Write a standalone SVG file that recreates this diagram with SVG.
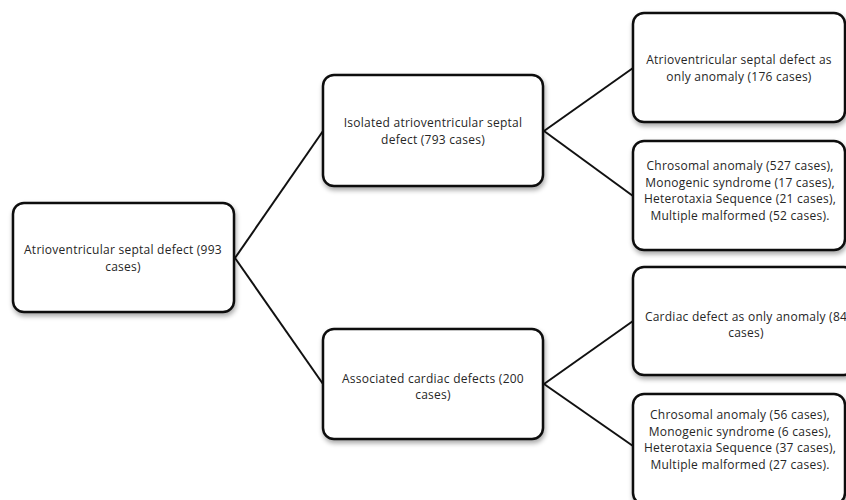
<svg xmlns="http://www.w3.org/2000/svg" width="846" height="500" viewBox="0 0 846 500">
<defs>
<filter id="sh" x="-10%" y="-10%" width="125%" height="130%">
<feGaussianBlur in="SourceAlpha" stdDeviation="2.5"/>
<feOffset dx="1" dy="3" result="b"/>
<feComponentTransfer><feFuncA type="linear" slope="0.35"/></feComponentTransfer>
<feMerge><feMergeNode/><feMergeNode in="SourceGraphic"/></feMerge>
</filter>
</defs>
<style>
.box{fill:#ffffff;stroke:#111111;stroke-width:2.5;filter:url(#sh)}
.t{font-family:"Open Sans",Lato,sans-serif;font-size:12px;letter-spacing:0.25px;fill:#262626;text-anchor:middle}
.c{stroke:#111111;stroke-width:2;fill:none}
</style>
<rect width="846" height="500" fill="#ffffff"/>
<g id="connectors">
<line class="c" x1="235" y1="258" x2="323" y2="131"/>
<line class="c" x1="235" y1="258" x2="323" y2="384"/>
<line class="c" x1="544" y1="131" x2="633" y2="68"/>
<line class="c" x1="544" y1="131" x2="633" y2="196"/>
<line class="c" x1="544" y1="384" x2="633" y2="321"/>
<line class="c" x1="544" y1="384" x2="633" y2="446"/>
</g>
<g id="root">
<rect class="box" x="13" y="203" width="221" height="109" rx="11"/>
<text class="t" x="123" y="254">Atrioventricular septal defect (993</text>
<text class="t" x="123" y="270.5">cases)</text>
</g>
<g id="isolated">
<rect class="box" x="323" y="75" width="220" height="111" rx="11"/>
<text class="t" x="433" y="127">Isolated atrioventricular septal</text>
<text class="t" x="433" y="143.5">defect (793 cases)</text>
</g>
<g id="associated">
<rect class="box" x="323" y="329" width="220" height="110" rx="11"/>
<text class="t" x="433" y="382.5">Associated cardiac defects (200</text>
<text class="t" x="433" y="399">cases)</text>
</g>
<g id="avsd-only">
<rect class="box" x="633" y="13" width="212" height="109" rx="11"/>
<text class="t" x="739" y="64">Atrioventricular septal defect as</text>
<text class="t" x="739" y="80.5">only anomaly (176 cases)</text>
</g>
<g id="isolated-other">
<rect class="box" x="633" y="141" width="212" height="109" rx="11"/>
<text class="t" x="740" y="170">Chrosomal anomaly (527 cases),</text>
<text class="t" x="740" y="186.5">Monogenic syndrome (17 cases),</text>
<text class="t" x="740" y="203">Heterotaxia Sequence (21 cases),</text>
<text class="t" x="740" y="219.5">Multiple malformed (52 cases).</text>
</g>
<g id="cardiac-only">
<rect class="box" x="633" y="267" width="222" height="108" rx="11"/>
<text class="t" x="746" y="320.5">Cardiac defect as only anomaly (84</text>
<text class="t" x="746" y="337">cases)</text>
</g>
<g id="associated-other">
<rect class="box" x="633" y="394" width="212" height="110" rx="11"/>
<text class="t" x="740" y="419">Chrosomal anomaly (56 cases),</text>
<text class="t" x="740" y="435.5">Monogenic syndrome (6 cases),</text>
<text class="t" x="740" y="452">Heterotaxia Sequence (37 cases),</text>
<text class="t" x="740" y="468.5">Multiple malformed (27 cases).</text>
</g>
</svg>
